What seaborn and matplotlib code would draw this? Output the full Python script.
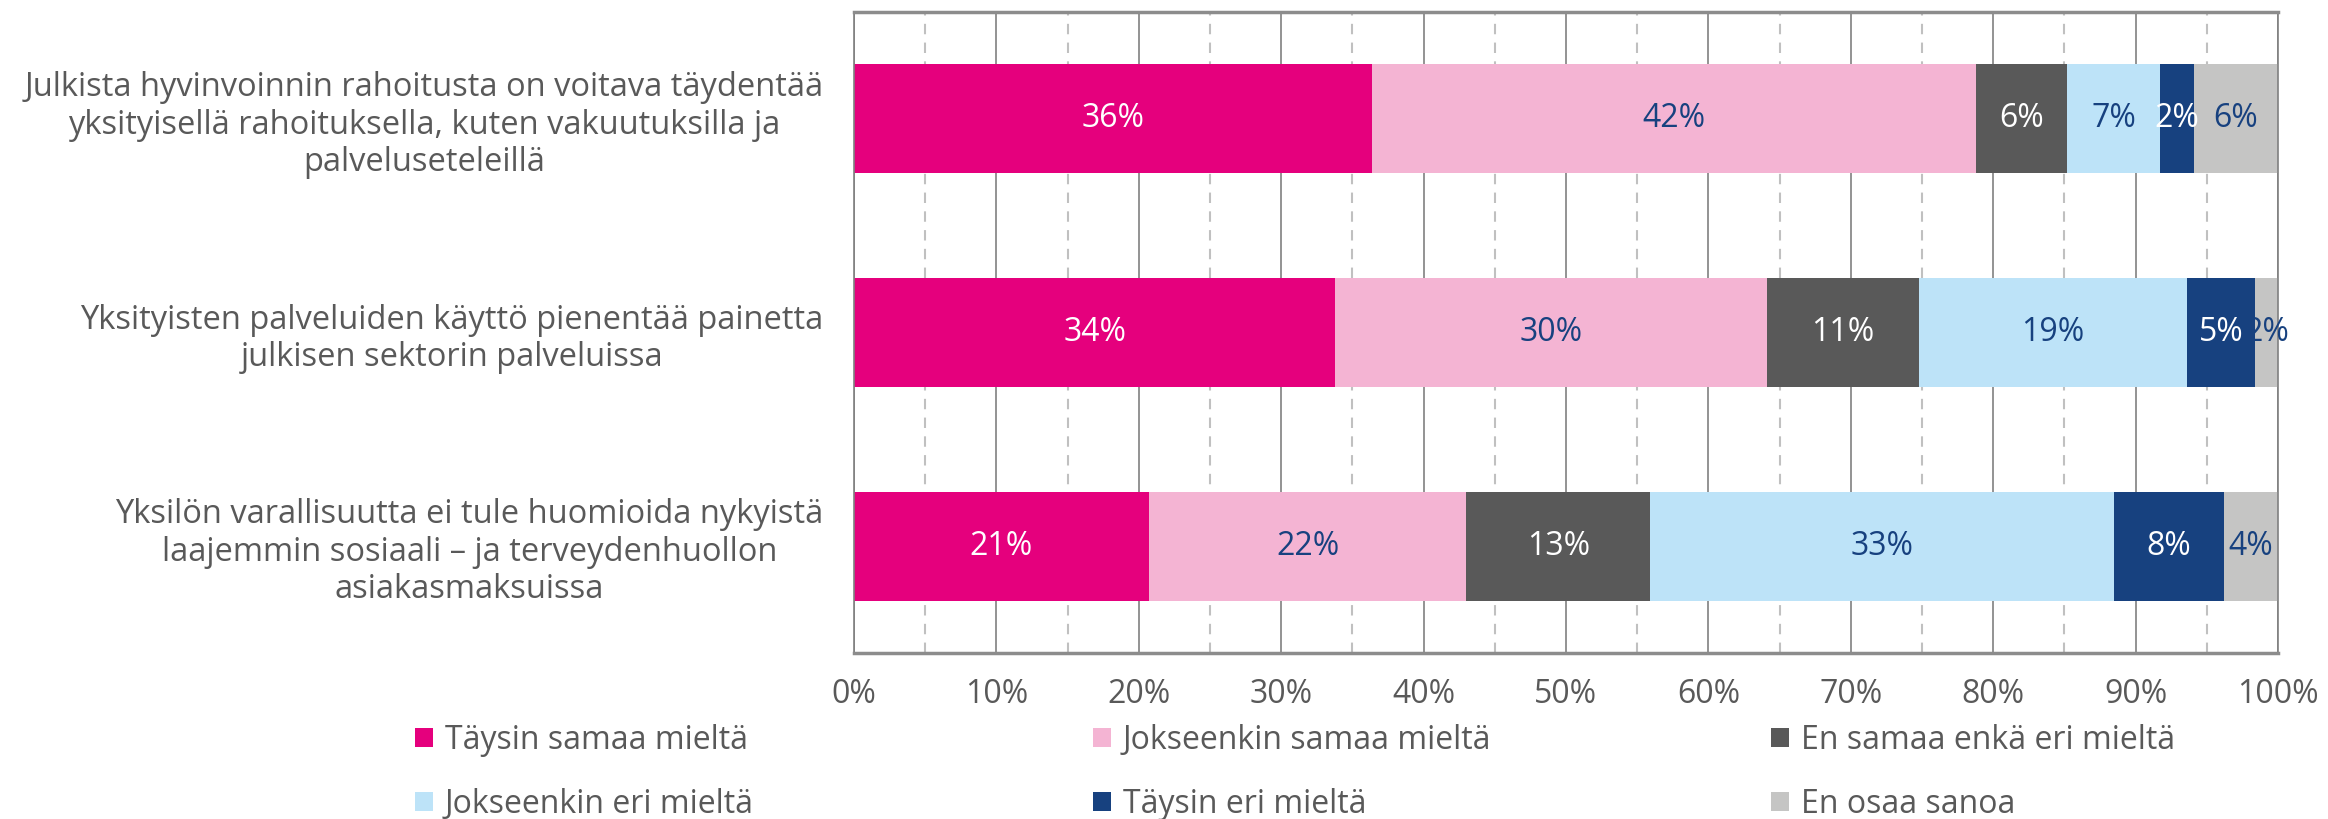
import numpy as np
import pandas as pd
import matplotlib.pyplot as plt
import seaborn as sns
from matplotlib.patches import Patch

statements = [
    'Julkista hyvinvoinnin rahoitusta on voitava täydentää\nyksityisellä rahoituksella, kuten vakuutuksilla ja\npalveluseteleillä',
    'Yksityisten palveluiden käyttö pienentää painetta\njulkisen sektorin palveluissa',
    'Yksilön varallisuutta ei tule huomioida nykyistä\nlaajemmin sosiaali – ja terveydenhuollon\nasiakasmaksuissa',
]
answers = ['Täysin samaa mieltä', 'Jokseenkin samaa mieltä', 'En samaa enkä eri mieltä',
           'Jokseenkin eri mieltä', 'Täysin eri mieltä', 'En osaa sanoa']

taysin_samaa = [36.4, 33.8, 20.7]
jokseenkin_samaa = [42.4, 30.3, 22.3]
ei_samaa_eika_eri = [6.4, 10.7, 12.9]
jokseenkin_eri = [6.5, 18.8, 32.6]
taysin_eri = [2.4, 4.8, 7.7]
en_osaa = [5.9, 1.6, 3.8]

colors = ['#E5007D', '#F4B4D3', '#595959', '#BDE3F8', '#17417F', '#C5C5C4']
label_colors = ['white', '#17417F', 'white', '#17417F', 'white', '#17417F']
text_gray = '#595959'

df = pd.DataFrame(
    np.array([taysin_samaa, jokseenkin_samaa, ei_samaa_eika_eri,
              jokseenkin_eri, taysin_eri, en_osaa]).T,
    index=statements, columns=answers)
cum = df.cumsum(axis=1)

plt.rcParams['font.family'] = ['Open Sans', 'DejaVu Sans']
fig = plt.figure(figsize=(23.28, 8.19), dpi=100)
ax = fig.add_axes([854 / 2328, 1 - 653 / 819, (2278 - 854) / 2328, (653 - 12) / 819])

# draw cumulative totals from the right so they overlay as a stacked bar
for name, c in reversed(list(zip(answers, colors))):
    sns.barplot(x=cum[name].values, y=statements, color=c, saturation=1,
                width=0.51, orient='h', linewidth=0, ax=ax)

for j, name in enumerate(answers):
    for i, s in enumerate(statements):
        v = df.loc[s, name]
        ax.text(cum.loc[s, name] - v / 2, i, f'{int(v + 0.5)}%', ha='center', va='center',
                fontsize=23, color=label_colors[j])

ax.set_xlim(0, 100)
ax.set_xticks(range(0, 101, 10))
ax.set_xticklabels([f'{v}%' for v in range(0, 101, 10)])
ax.set_xticks(range(5, 100, 10), minor=True)
ax.tick_params(axis='both', length=0, labelsize=23, labelcolor=text_gray)
ax.tick_params(axis='x', which='both', length=0, pad=18)
ax.tick_params(axis='y', pad=22, labelsize=23.5)
for t in ax.get_yticklabels():
    t.set_multialignment('center')
    t.set_linespacing(1.18)
ax.set_xlabel('')
ax.set_ylabel('')

ax.set_axisbelow(True)
ax.grid(axis='x', which='major', color='#808080', lw=1.2)
ax.grid(axis='x', which='minor', color='#c0c0c0', lw=1.5, ls=(0, (5, 4)))
ax.grid(axis='y', visible=False)
for side in ['top', 'bottom']:
    ax.spines[side].set_color('#8c8c8c')
    ax.spines[side].set_linewidth(2.5)
for side in ['left', 'right']:
    ax.spines[side].set_color('#808080')
    ax.spines[side].set_linewidth(1.2)

# legend in three columns
legend_cols = [(0, 3), (1, 4), (2, 5)]
legend_x = [415, 1093, 1771]
for (a, b), x in zip(legend_cols, legend_x):
    handles = [Patch(facecolor=colors[k], edgecolor='none', label=answers[k]) for k in (a, b)]
    fig.legend(handles=handles, loc='upper left', bbox_to_anchor=(x / 2328, 1 - 724 / 819),
               frameon=False, fontsize=23, labelcolor=text_gray, handlelength=0.56,
               handleheight=0.56, handletextpad=0.37, labelspacing=0.97, borderpad=0,
               borderaxespad=0)

fig.savefig('out.png', dpi=100)
